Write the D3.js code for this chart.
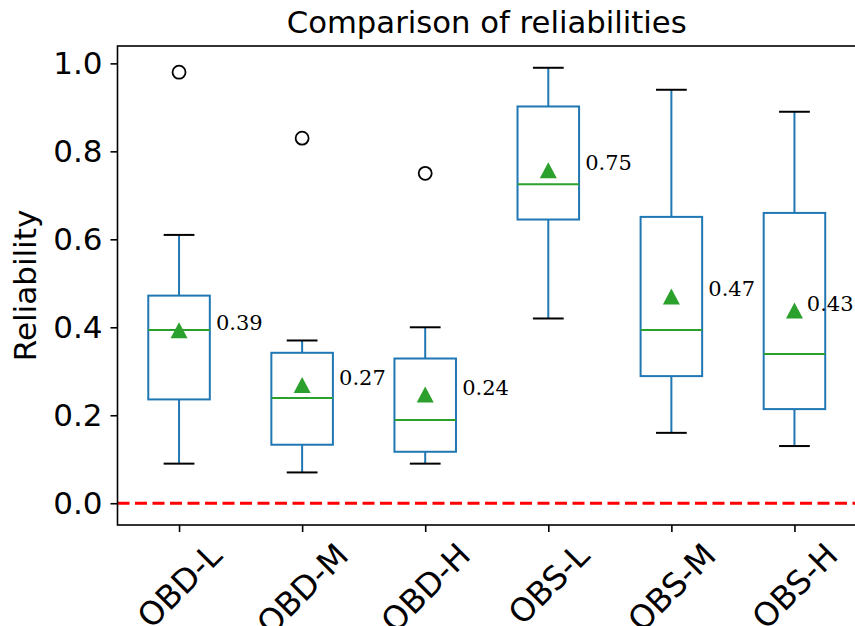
<!DOCTYPE html>
<html>

<head>
  <meta charset="utf-8">
  <script src="https://cdn.jsdelivr.net/npm/d3@7/dist/d3.min.js"></script>
  <style>
    body {
      margin: 0;
      background: white;
      overflow: hidden;
    }

    text {
      font-family: 'DejaVu Sans', sans-serif;
    }
  </style>
</head>

<body>
  <script>
    const categories = ['OBD-L', 'OBD-M', 'OBD-H', 'OBS-L', 'OBS-M', 'OBS-H']
    const whiskerLow = [0.09, 0.07, 0.09, 0.42, 0.16, 0.13]
    const q1 = [0.236, 0.133, 0.117, 0.645, 0.289, 0.214]
    const medians = [0.394, 0.239, 0.189, 0.725, 0.394, 0.339]
    const q3 = [0.472, 0.342, 0.329, 0.902, 0.651, 0.660]
    const whiskerHigh = [0.61, 0.37, 0.40, 0.99, 0.94, 0.89]
    const means = [0.393, 0.269, 0.247, 0.757, 0.470, 0.438]
    const meanLabels = ['0.39', '0.27', '0.24', '0.75', '0.47', '0.43']
    const outliers = [[0.98], [0.83], [0.75], [], [], []]
    const yTicks = [0.0, 0.2, 0.4, 0.6, 0.8, 1.0]

    const W = 855, H = 626
    const pLeft = 117.5, pRight = 856, pTop = 46, pBottom = 525

    const blue = '#1f77b4'
    const green = '#2ca02c'
    const fs = 31
    const xfs = 32.5

    const svg = d3.select('body').append('svg')
      .attr('width', W)
      .attr('height', H)

    const x = d3.scaleLinear().domain([0.5, 6.5]).range([pLeft, pRight])
    const y = d3.scaleLinear().domain([-0.0495, 1.0395]).range([pBottom, pTop])

    const boxW = x(1.25) - x(1)
    const capW = x(1.125) - x(1)

    // reference line at zero
    svg.append('line')
      .attr('x1', pLeft).attr('x2', pRight)
      .attr('y1', y(0)).attr('y2', y(0))
      .attr('stroke', 'red')
      .attr('stroke-width', 3)
      .attr('stroke-dasharray', '12 5.5')

    const boxes = svg.append('g')
      .selectAll('g')
      .data(categories)
      .join('g')

    // whiskers
    boxes.append('line')
      .attr('x1', (d, i) => x(i + 1)).attr('x2', (d, i) => x(i + 1))
      .attr('y1', (d, i) => y(whiskerLow[i])).attr('y2', (d, i) => y(q1[i]))
      .attr('stroke', blue).attr('stroke-width', 2)
    boxes.append('line')
      .attr('x1', (d, i) => x(i + 1)).attr('x2', (d, i) => x(i + 1))
      .attr('y1', (d, i) => y(q3[i])).attr('y2', (d, i) => y(whiskerHigh[i]))
      .attr('stroke', blue).attr('stroke-width', 2)

    // caps
    const caps = [whiskerLow, whiskerHigh]
    caps.forEach(arr => {
      boxes.append('line')
        .attr('x1', (d, i) => x(i + 1) - capW).attr('x2', (d, i) => x(i + 1) + capW)
        .attr('y1', (d, i) => y(arr[i])).attr('y2', (d, i) => y(arr[i]))
        .attr('stroke', 'black').attr('stroke-width', 2)
    })

    // box
    boxes.append('rect')
      .attr('x', (d, i) => x(i + 1) - boxW)
      .attr('width', boxW * 2)
      .attr('y', (d, i) => y(q3[i]))
      .attr('height', (d, i) => y(q1[i]) - y(q3[i]))
      .attr('fill', 'none')
      .attr('stroke', blue)
      .attr('stroke-width', 2)

    // median
    boxes.append('line')
      .attr('x1', (d, i) => x(i + 1) - boxW).attr('x2', (d, i) => x(i + 1) + boxW)
      .attr('y1', (d, i) => y(medians[i])).attr('y2', (d, i) => y(medians[i]))
      .attr('stroke', green).attr('stroke-width', 2)

    // mean triangles
    const tw = 8.5, th = 8
    boxes.append('path')
      .attr('d', (d, i) => {
        const cx = x(i + 1), cy = y(means[i])
        return d3.line()([[cx, cy - th], [cx - tw, cy + th], [cx + tw, cy + th]]) + 'Z'
      })
      .attr('fill', green)

    // outliers
    boxes.each(function (d, i) {
      d3.select(this).selectAll('circle')
        .data(outliers[i])
        .join('circle')
        .attr('cx', x(i + 1))
        .attr('cy', v => y(v))
        .attr('r', 6.5)
        .attr('fill', 'none')
        .attr('stroke', 'black')
        .attr('stroke-width', 1.8)
    })

    // mean labels
    boxes.append('text')
      .attr('x', (d, i) => x(i + 1 + (i === categories.length - 1 ? 0.1 : 0.3)))
      .attr('y', (d, i) => y(means[i]))
      .style('font-family', "'DejaVu Serif', serif")
      .style('font-size', '21px')
      .text((d, i) => meanLabels[i])

    // y axis
    const yAxis = svg.append('g')
      .attr('transform', `translate(${pLeft},0)`)
      .call(d3.axisLeft(y).tickValues(yTicks).tickFormat(d3.format('.1f')).tickSize(7).tickPadding(8))
    yAxis.select('.domain').remove()
    yAxis.selectAll('line').attr('stroke-width', 1.6)
    yAxis.selectAll('text').style('font-size', fs + 'px').attr('font-family', null)

    // x axis
    const xAxis = svg.append('g')
      .attr('transform', `translate(0,${pBottom})`)
      .call(d3.axisBottom(x).tickValues(d3.range(1, 7)).tickFormat(v => categories[v - 1]).tickSize(7))
    xAxis.select('.domain').remove()
    xAxis.selectAll('line').attr('stroke-width', 1.6)
    xAxis.selectAll('text').remove()

    xAxis.selectAll('.tick').each(function (v) {
      const g = d3.select(this)
      const t = g.append('text')
        .attr('fill', 'black')
        .attr('text-anchor', 'middle')
        .style('font-size', xfs + 'px')
        .text(categories[v - 1])
      const w = t.node().getComputedTextLength()
      const h = xfs * 1.164
      const side = (w + h) / Math.SQRT2
      const cy = 11 + side / 2
      t.attr('transform', `translate(0,${cy}) rotate(-45)`)
        .attr('y', xfs * 0.346)
    })

    // spines
    svg.append('rect')
      .attr('x', pLeft).attr('y', pTop)
      .attr('width', pRight - pLeft).attr('height', pBottom - pTop)
      .attr('fill', 'none')
      .attr('stroke', 'black')
      .attr('stroke-width', 1.6)

    // y label
    svg.append('text')
      .attr('transform', `translate(36,${(pTop + pBottom) / 2}) rotate(-90)`)
      .attr('text-anchor', 'middle')
      .style('font-size', fs + 'px')
      .text('Reliability')

    // title
    svg.append('text')
      .attr('x', (pLeft + pRight) / 2)
      .attr('y', 33)
      .attr('text-anchor', 'middle')
      .style('font-size', '30.7px')
      .text('Comparison of reliabilities')
  </script>
</body>

</html>
